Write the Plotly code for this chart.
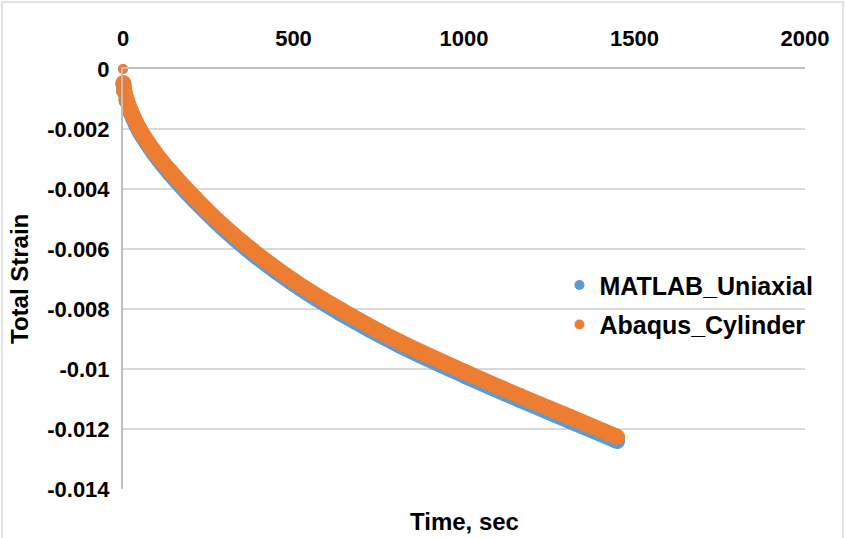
import plotly.graph_objects as go

# Data
time_matlab = [0, 1, 3, 10, 22, 48, 90, 138, 211, 290, 378, 502, 639, 812, 1003, 1164, 1311, 1449]
strain_matlab = [0, -0.00050, -0.00074, -0.00105, -0.00143, -0.00207, -0.00280, -0.00349, -0.00440,
                 -0.00528, -0.00614, -0.00718, -0.00815, -0.00922, -0.01023, -0.01103, -0.01174, -0.01240]

time_abaqus = [0, 1, 3, 10, 22, 48, 90, 138, 211, 290, 378, 502, 639, 812, 1003, 1164, 1311, 1449]
strain_abaqus = [0, -0.00047, -0.00070, -0.00100, -0.00137, -0.00200, -0.00272, -0.00340, -0.00430,
                 -0.00518, -0.00603, -0.00707, -0.00803, -0.00910, -0.01010, -0.01090, -0.01160, -0.01226]

series_names = ["MATLAB_Uniaxial", "Abaqus_Cylinder"]
x_tickvals = [0, 500, 1000, 1500, 2000]
x_ticktext = ["0", "500", "1000", "1500", "2000"]
y_tickvals = [0, -0.002, -0.004, -0.006, -0.008, -0.01, -0.012, -0.014]
y_ticktext = ["0", "-0.002", "-0.004", "-0.006", "-0.008", "-0.01", "-0.012", "-0.014"]

BLUE = "#5B9BD5"
ORANGE = "#ED7D31"
FONT = "Liberation Sans, Arial, sans-serif"
W = 16

fig = go.Figure()
for name, t, s, col, grp in [(series_names[0], time_matlab, strain_matlab, BLUE, "a"),
                             (series_names[1], time_abaqus, strain_abaqus, ORANGE, "b")]:
    fig.add_trace(go.Scatter(x=t[1:], y=s[1:], mode="lines+markers", line=dict(color=col, width=W, shape="spline"),
                             marker=dict(color=col, size=W), showlegend=False, cliponaxis=False,
                             legendgroup=grp, hoverinfo="skip"))
    fig.add_trace(go.Scatter(x=t[:1], y=s[:1], mode="markers", marker=dict(color=col, size=10),
                             name=name, showlegend=True, cliponaxis=False, legendgroup=grp))

bold = lambda size: dict(family=FONT, size=size, color="#000000", weight="bold")

fig.update_layout(
    width=845, height=538,
    margin=dict(l=123, r=40, t=69, b=49),
    paper_bgcolor="white", plot_bgcolor="white",
    font=dict(family=FONT, size=22, color="#000000"),
    showlegend=True,
    legend=dict(x=0.64, y=0.54, xanchor="left", yanchor="top", bgcolor="rgba(0,0,0,0)",
                font=bold(25), tracegroupgap=4, itemsizing="trace"),
    xaxis=dict(range=[0, 2000], side="top", tickvals=x_tickvals, ticktext=x_ticktext,
               tickfont=bold(22),
               showgrid=False, zeroline=False, showline=True, linecolor="#BFBFBF", linewidth=2,
               ticks="", ticklabelstandoff=12),
    yaxis=dict(range=[-0.014, 0], tickvals=y_tickvals, ticktext=y_ticktext,
               tickfont=bold(22),
               showgrid=True, gridcolor="#D9D9D9", gridwidth=2, zeroline=False,
               showline=True, linecolor="#BFBFBF", linewidth=2, ticks="", ticklabelstandoff=7),
    annotations=[
        dict(text="Time, sec", x=0.5, y=-0.078, xref="paper", yref="paper", showarrow=False,
             xanchor="center", yanchor="middle", font=bold(24)),
        dict(text="Total Strain", x=-0.1525, y=0.5, xref="paper", yref="paper", showarrow=False,
             textangle=-90, xanchor="center", yanchor="middle", font=bold(24)),
    ],
    shapes=[dict(type="rect", xref="paper", yref="paper", x0=-0.1774, x1=1.0557, y0=-0.12, y1=1.1595,
                 line=dict(color="#D9D9D9", width=1.5), fillcolor="rgba(0,0,0,0)", layer="below")],
)

fig.write_html("out.html")
